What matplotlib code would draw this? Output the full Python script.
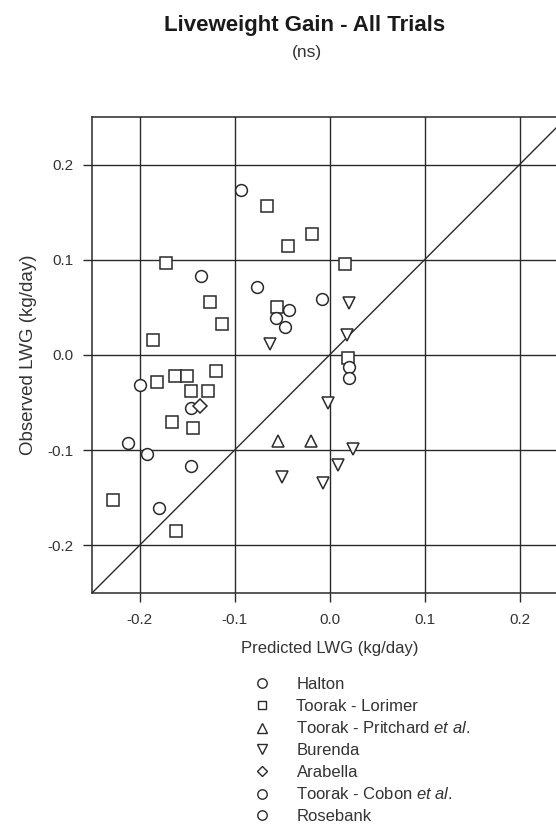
import matplotlib
matplotlib.use("Agg")
import matplotlib.pyplot as plt
from matplotlib.lines import Line2D

plt.rcParams['font.family'] = ['Liberation Sans', 'DejaVu Sans']
plt.rcParams['mathtext.fontset'] = 'custom'
plt.rcParams['mathtext.rm'] = 'Liberation Sans'
plt.rcParams['mathtext.it'] = 'Liberation Sans:italic'

# ---- data (predicted, observed LWG, kg/day) ----
halton_x = [-0.093, -0.135, -0.0765, -0.008, -0.199, -0.146, -0.212, -0.192, -0.146, -0.180]
halton_y = [0.173, 0.083, 0.071, 0.059, -0.031, -0.056, -0.092, -0.104, -0.117, -0.161]

lorimer_x = [-0.066, -0.018, -0.044, 0.0165, -0.172, -0.126, -0.055, -0.113, -0.186, 0.019,
             -0.119, -0.182, -0.163, -0.1505, -0.146, -0.128, -0.166, -0.144, -0.228, -0.162]
lorimer_y = [0.157, 0.127, 0.115, 0.096, 0.0965, 0.056, 0.050, 0.033, 0.016, -0.003,
             -0.0165, -0.028, -0.0225, -0.0225, -0.0375, -0.038, -0.070, -0.077, -0.152, -0.185]

pritchard_x = [-0.054, -0.0195]
pritchard_y = [-0.090, -0.090]

burenda_x = [0.020, 0.018, -0.063, -0.002, 0.025, 0.009, -0.0498, -0.0066]
burenda_y = [0.055, 0.0205, 0.012, -0.0505, -0.099, -0.116, -0.128, -0.134]

arabella_x = [-0.136]
arabella_y = [-0.054]

cobon_x = [-0.043, -0.056, -0.047]
cobon_y = [0.047, 0.039, 0.029]

rosebank_x = [0.020, 0.021]
rosebank_y = [-0.013, -0.024]

ticks = [-0.2, -0.1, 0.0, 0.1, 0.2]
tick_labels = ["-0.2", "-0.1", "0.0", "0.1", "0.2"]

series = [
    ("Halton", halton_x, halton_y, 'o', 8.5),
    ("Toorak - Lorimer", lorimer_x, lorimer_y, 's', 8.0),
    (r"Toorak - Pritchard $\it{et\ al.}$", pritchard_x, pritchard_y, '^', 8.5),
    ("Burenda", burenda_x, burenda_y, 'v', 8.5),
    ("Arabella", arabella_x, arabella_y, 'D', 7.0),
    (r"Toorak - Cobon $\it{et\ al.}$", cobon_x, cobon_y, 'o', 8.5),
    ("Rosebank", rosebank_x, rosebank_y, 'o', 8.5),
]

ink = '#2a2a2a'
txt = '#333333'

fig = plt.figure(figsize=(5.56, 8.27), dpi=100)
ax = fig.add_axes([92 / 556, 234 / 827, 475 / 556, 476 / 827])
ax.set_xlim(-0.25, 0.25)
ax.set_ylim(-0.25, 0.25)

ax.set_xticks(ticks)
ax.set_xticklabels(tick_labels)
ax.set_yticks(ticks)
ax.set_yticklabels(tick_labels)
ax.grid(True, color=ink, linewidth=1.0)
ax.set_axisbelow(True)
ax.tick_params(direction='out', length=6.5, width=1.0, color=ink,
               labelsize=11, labelcolor=txt)
ax.tick_params(axis='x', pad=8)
ax.tick_params(axis='y', pad=7)
for s in ax.spines.values():
    s.set_color(ink)
    s.set_linewidth(1.1)

ax.plot([-0.25, 0.25], [-0.25, 0.25], color=ink, linewidth=1.0, zorder=2)

handles = []
for label, xs, ys, m, ms in series:
    ax.plot(xs, ys, linestyle='none', marker=m, markersize=ms,
            markerfacecolor='white', markeredgecolor=ink, markeredgewidth=1.1,
            zorder=3)
    handles.append(Line2D([], [], linestyle='none', marker=m, markersize=ms * 0.8,
                          markerfacecolor='white', markeredgecolor=ink,
                          markeredgewidth=1.0, label=label))

ax.set_xlabel("Predicted LWG (kg/day)", fontsize=12, color=txt, labelpad=10)
ax.set_ylabel("Observed LWG (kg/day)", fontsize=13.5, color=txt, labelpad=7)

fig.text(305 / 556, 1 - 26 / 827, "Liveweight Gain - All Trials", ha='center',
         va='center', fontsize=16, fontweight='bold', color='#1a1a1a')
fig.text(307 / 556, 1 - 53 / 827, "(ns)", ha='center', va='center',
         fontsize=12.5, color=txt)

leg = fig.legend(handles=handles, loc='upper left',
                 bbox_to_anchor=(254 / 556, 1 - 677 / 827), frameon=False,
                 fontsize=12, labelspacing=0.40, handlelength=1.0,
                 handletextpad=1.55, borderaxespad=0, borderpad=0)
for t in leg.get_texts():
    t.set_color(txt)

fig.savefig("out.png", dpi=100)
